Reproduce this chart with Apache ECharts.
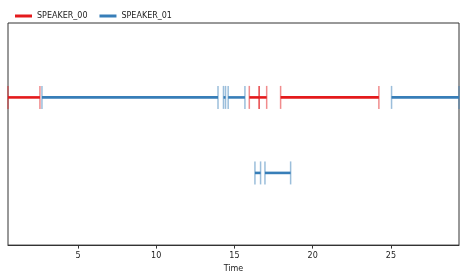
<!DOCTYPE html>
<html><head><meta charset="utf-8">
<script src="https://cdn.jsdelivr.net/npm/echarts@6/dist/echarts.min.js"></script>
<style>html,body{margin:0;padding:0;background:#fff}#c{width:467px;height:278px}</style>
</head><body><div id="c"></div>
<script>
// Data: [start, end, row] in seconds
const speakerNames = ['SPEAKER_00', 'SPEAKER_01'];
const speaker00 = [[0.53, 2.57, 0], [15.95, 16.58, 0], [16.58, 17.06, 0], [17.95, 24.23, 0]];
const speaker01 = [[2.70, 13.95, 0], [14.30, 14.43, 0], [14.60, 15.67, 0], [25.04, 29.35, 0], [16.31, 16.67, 1], [16.95, 18.59, 1]];
const rowLevels = [0.665, 0.325];
const xTicks = [5, 10, 15, 20, 25];
const xMin = 0.53, xMax = 29.35;
const colors = ['#e41a1c', '#377eb8'];

const chart = echarts.init(document.getElementById('c'));
function makeSeries(name, segs, color) {
  return {
    type: 'custom', name: name,
    itemStyle: { color: color },
    data: segs.map(s => [s[0], s[1], rowLevels[s[2]]]),
    encode: { x: [0, 1], y: 2 },
    renderItem: function (params, api) {
      const p0 = api.coord([api.value(0), api.value(2)]);
      const p1 = api.coord([api.value(1), api.value(2)]);
      const h = 11.5;
      return { type: 'group', children: [
        { type: 'line', shape: { x1: p0[0], y1: p0[1], x2: p1[0], y2: p1[1] }, style: { stroke: color, lineWidth: 2.6 } },
        { type: 'line', shape: { x1: p0[0], y1: p0[1] - h, x2: p0[0], y2: p0[1] + h }, style: { stroke: color, lineWidth: 1.5, opacity: 0.5 } },
        { type: 'line', shape: { x1: p1[0], y1: p1[1] - h, x2: p1[0], y2: p1[1] + h }, style: { stroke: color, lineWidth: 1.5, opacity: 0.5 } }
      ]};
    }
  };
}
chart.setOption({
  animation: false,
  legend: {
    left: 10, top: 7, icon: 'rect', itemWidth: 17, itemHeight: 3, itemGap: 12,
    textStyle: { fontFamily: 'DejaVu Sans', fontSize: 8, color: '#222' },
    data: speakerNames
  },
  grid: { left: 8, right: 8, top: 23, bottom: 32, show: true, borderColor: '#333', borderWidth: 1 },
  xAxis: {
    type: 'value', min: xMin, max: xMax,
    name: 'Time', nameLocation: 'middle', nameGap: 19,
    nameTextStyle: { fontFamily: 'DejaVu Sans', fontSize: 8, color: '#222' },
    axisLine: { show: true, lineStyle: { color: '#333', width: 1 } },
    axisTick: { show: true, length: 3.5, lineStyle: { color: '#333' }, customValues: xTicks },
    axisLabel: { fontFamily: 'DejaVu Sans', fontSize: 8, color: '#222', margin: 7, customValues: xTicks },
    splitLine: { show: false }
  },
  yAxis: { type: 'value', min: 0, max: 1, show: false },
  series: [makeSeries(speakerNames[0], speaker00, colors[0]), makeSeries(speakerNames[1], speaker01, colors[1])]
});
</script></body></html>
